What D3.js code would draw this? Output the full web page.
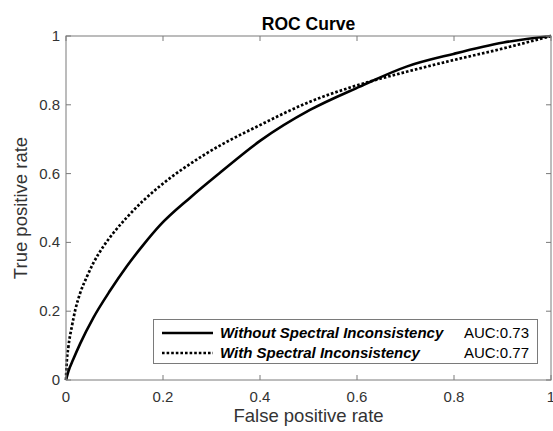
<!DOCTYPE html>
<html>
<head>
<meta charset="utf-8">
<script src="https://cdn.jsdelivr.net/npm/d3@7"></script>
<style>
body { margin:0; background:#fff; }
text { font-family: "Liberation Sans", Arial, Helvetica, sans-serif; }
</style>
</head>
<body>
<svg id="chart" width="553" height="431"></svg>
<script>

// ROC points
var fprWithout = [0, 0.005, 0.015, 0.029, 0.056, 0.091, 0.125, 0.159, 0.194, 0.256, 0.318, 0.4, 0.503, 0.606, 0.702, 0.799, 0.902, 1];
var tprWithout = [0, 0.025, 0.06, 0.105, 0.18, 0.26, 0.33, 0.392, 0.45, 0.53, 0.603, 0.695, 0.785, 0.853, 0.911, 0.948, 0.981, 1];

var fprWith = [0, 0.001, 0.005, 0.012, 0.019, 0.029, 0.043, 0.056, 0.077, 0.098, 0.125, 0.159, 0.194, 0.29, 0.4, 0.503, 0.592, 0.702, 0.799, 0.902, 1];
var tprWith = [0, 0.039, 0.097, 0.155, 0.203, 0.252, 0.300, 0.339, 0.388, 0.428, 0.472, 0.521, 0.564, 0.659, 0.741, 0.809, 0.853, 0.896, 0.930, 0.964, 1];

var seriesNames = ["Without Spectral Inconsistency", "With Spectral Inconsistency"];
var aucLabels = ["AUC:0.73", "AUC:0.77"];
var ticks = [0, 0.2, 0.4, 0.6, 0.8, 1];

var pLeft = 66, pRight = 551, pTop = 36, pBottom = 380;
var axisColor = "#333";
var boxColor = "#7a7a7a";
var dots = "2.6,2";

var svg = d3.select("#chart");

var x = d3.scaleLinear().domain([0,1]).range([pLeft,pRight]);
var y = d3.scaleLinear().domain([0,1]).range([pBottom,pTop]);

function fmt(d) { return d === 0 || d === 1 ? String(d) : d.toFixed(1); }

// curves
var line = d3.line()
	.x(function(d){ return x(d[0]); })
	.y(function(d){ return y(d[1]); })
	.curve(d3.curveMonotoneX);

var dataWithout = d3.zip(fprWithout, tprWithout);
var dataWith = d3.zip(fprWith, tprWith);

svg.append("path")
	.datum(dataWithout)
	.attr("d", line)
	.attr("fill","none")
	.attr("stroke","#000")
	.attr("stroke-width",2.6);

svg.append("path")
	.datum(dataWith)
	.attr("d", line)
	.attr("fill","none")
	.attr("stroke","#000")
	.attr("stroke-width",2.7)
	.attr("stroke-dasharray",dots);

// box + ticks (MATLAB style, ticks inward on all four sides)
var g = svg.append("g");
g.append("rect")
	.attr("x",pLeft).attr("y",pTop)
	.attr("width",pRight-pLeft).attr("height",pBottom-pTop)
	.attr("fill","none")
	.attr("stroke",boxColor)
	.attr("stroke-width",1);

var tl = 5;
ticks.forEach(function(t){
	g.append("line").attr("x1",x(t)).attr("x2",x(t)).attr("y1",pBottom).attr("y2",pBottom-tl).attr("stroke",boxColor);
	g.append("line").attr("x1",x(t)).attr("x2",x(t)).attr("y1",pTop).attr("y2",pTop+tl).attr("stroke",boxColor);
	g.append("line").attr("y1",y(t)).attr("y2",y(t)).attr("x1",pLeft).attr("x2",pLeft+tl).attr("stroke",boxColor);
	g.append("line").attr("y1",y(t)).attr("y2",y(t)).attr("x1",pRight).attr("x2",pRight-tl).attr("stroke",boxColor);

	g.append("text").text(fmt(t))
		.attr("x",x(t)).attr("y",pBottom+22)
		.attr("text-anchor","middle")
		.attr("font-size",15).attr("fill",axisColor);
	g.append("text").text(fmt(t))
		.attr("x",pLeft-6).attr("y",y(t)+5)
		.attr("text-anchor","end")
		.attr("font-size",15).attr("fill",axisColor);
});

// labels
svg.append("text").text("False positive rate")
	.attr("x",(pLeft+pRight)/2).attr("y",422)
	.attr("text-anchor","middle")
	.attr("font-size",18.5).attr("fill",axisColor);

svg.append("text").text("True positive rate")
	.attr("transform","translate(27," + (pTop+pBottom)/2 + ") rotate(-90)")
	.attr("text-anchor","middle")
	.attr("font-size",18.5).attr("fill",axisColor);

svg.append("text").text("ROC Curve")
	.attr("x",(pLeft+pRight)/2).attr("y",30)
	.attr("text-anchor","middle")
	.attr("font-size",17.5).attr("font-weight","bold").attr("fill","#000");

// legend
var lg = svg.append("g");
lg.append("rect")
	.attr("x",153.5).attr("y",319.5)
	.attr("width",384).attr("height",44)
	.attr("fill","#fff")
	.attr("stroke",boxColor);

var rowY = [333, 353];
seriesNames.forEach(function(name,i){
	lg.append("line")
		.attr("x1",162).attr("x2",213)
		.attr("y1",rowY[i]).attr("y2",rowY[i])
		.attr("stroke","#000").attr("stroke-width",2.7)
		.attr("stroke-dasharray", i === 1 ? dots : null);
	lg.append("text").text(name)
		.attr("x",220).attr("y",rowY[i]+5)
		.attr("font-size",15).attr("font-weight","bold").attr("font-style","italic")
		.attr("fill","#000");
	lg.append("text").text(aucLabels[i])
		.attr("x",529).attr("y",rowY[i]+5)
		.attr("text-anchor","end")
		.attr("font-size",15).attr("fill","#000");
});

</script>
</body>
</html>
